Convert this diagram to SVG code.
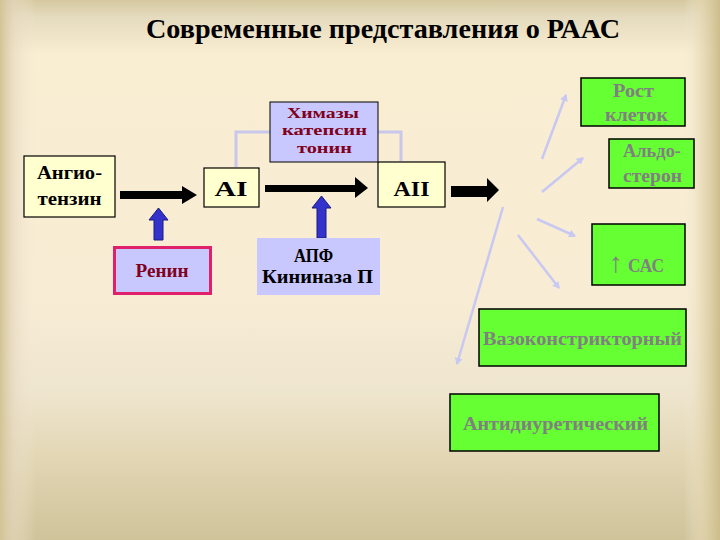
<svg xmlns="http://www.w3.org/2000/svg" width="720" height="540" viewBox="0 0 720 540">
<defs>
<linearGradient id="bgv" x1="0" y1="0" x2="0" y2="1">
<stop offset="0" stop-color="#d6c9a0"/>
<stop offset="0.03" stop-color="#e4dabd"/>
<stop offset="0.1" stop-color="#f9edd2"/>
<stop offset="0.55" stop-color="#f8ecd4"/>
<stop offset="0.72" stop-color="#efe6cf"/>
<stop offset="0.85" stop-color="#e2d6b4"/>
<stop offset="1" stop-color="#cfc39a"/>
</linearGradient>
<linearGradient id="bgh" x1="0" y1="0" x2="1" y2="0">
<stop offset="0" stop-color="#d2c494" stop-opacity="1"/>
<stop offset="0.02" stop-color="#e6d8c0" stop-opacity="0.6"/>
<stop offset="0.05" stop-color="#f3ead8" stop-opacity="0"/>
<stop offset="0.95" stop-color="#f3ead8" stop-opacity="0"/>
<stop offset="0.975" stop-color="#e4d6b0" stop-opacity="0.7"/>
<stop offset="1" stop-color="#cdbd8c" stop-opacity="1"/>
</linearGradient>
<marker id="lav" markerWidth="8" markerHeight="8" refX="6" refY="4" orient="auto" markerUnits="userSpaceOnUse">
<path d="M0,0 L7,4 L0,8 Z" fill="#c8c8f2"/>
</marker>
</defs>
<style>
.t{font-family:"Liberation Serif","Times New Roman",serif;font-weight:bold;text-anchor:middle}
.b{font-size:18px}
.yel{fill:#ffffd0;stroke:#000;stroke-width:1.2}
.lv{fill:#c8c8ff}
.gr{fill:#66ff33;stroke:#000;stroke-width:1.5}
.gt{fill:#808080;font-size:18px}
.dr{fill:#800020}
.fan{stroke:#c8c8f2;stroke-width:2.5;fill:none}
.blu{fill:#3333cc;stroke:#1a1a80;stroke-width:1}
</style>
<rect x="0" y="0" width="720" height="540" fill="url(#bgv)"/>
<rect x="0" y="0" width="720" height="540" fill="url(#bgh)"/>
<text class="t" x="383" y="38" font-size="28" fill="#000" textLength="474" lengthAdjust="spacingAndGlyphs">Современные представления о РААС</text>

<g id="connectors">
<path d="M236,167 V132 H270" stroke="#c8c8ec" stroke-width="3" fill="none"/>
<path d="M378,132 H401 V161" stroke="#c8c8ec" stroke-width="3" fill="none"/>
<path d="M120,191 H182 V186 L197,195 L182,204 V199 H120 Z" fill="#000"/>
<path d="M265,185 H355 V177 L368,188 L355,198 V192 H265 Z" fill="#000"/>
<path d="M451,186 H487 V178 L499,190 L487,202 V197 H451 Z" fill="#000"/>
<path d="M154,240 V220 H149 L158.5,208 L168,220 H163 V240 Z" class="blu"/>
<path d="M317,238 V208 H312 L321.5,196 L331,208 H326 V238 Z" class="blu"/>
<line x1="542" y1="159" x2="566" y2="95" class="fan" marker-end="url(#lav)"/>
<line x1="542" y1="192" x2="583" y2="158" class="fan" marker-end="url(#lav)"/>
<line x1="537" y1="219" x2="575" y2="236" class="fan" marker-end="url(#lav)"/>
<line x1="518" y1="235" x2="559" y2="288" class="fan" marker-end="url(#lav)"/>
<line x1="503" y1="207" x2="457" y2="364" class="fan" marker-end="url(#lav)"/>
</g>

<g id="angiotensin">
<rect x="24" y="156" width="91" height="61" class="yel"/>
<text class="t b" x="69.5" y="179" textLength="65" lengthAdjust="spacingAndGlyphs">Ангио-</text>
<text class="t b" x="69.5" y="205" textLength="64" lengthAdjust="spacingAndGlyphs">тензин</text>
</g>
<g id="ai">
<rect x="204" y="168" width="55" height="39" class="yel"/>
<text class="t" x="231" y="196" font-size="20" textLength="33" lengthAdjust="spacingAndGlyphs">AI</text>
</g>
<g id="aii">
<rect x="378" y="162" width="67" height="45" class="yel"/>
<text class="t" x="411.5" y="196" font-size="20" textLength="36" lengthAdjust="spacingAndGlyphs">AII</text>
</g>
<g id="renin">
<rect x="114.5" y="247.5" width="96" height="46" fill="#c8c8ff" stroke="#e0206a" stroke-width="3"/>
<text class="t b dr" x="162" y="277" textLength="53" lengthAdjust="spacingAndGlyphs">Ренин</text>
</g>
<g id="chymase">
<rect x="270" y="102" width="108" height="60" class="lv" stroke="#000" stroke-width="1"/>
<text class="t dr" x="323" y="118" font-size="15" textLength="72" lengthAdjust="spacingAndGlyphs">Химазы</text>
<text class="t dr" x="324.5" y="135" font-size="15" textLength="85" lengthAdjust="spacingAndGlyphs">катепсин</text>
<text class="t dr" x="324.5" y="153" font-size="15" textLength="55" lengthAdjust="spacingAndGlyphs">тонин</text>
</g>
<g id="ace">
<rect x="257" y="238" width="123" height="57" class="lv"/>
<text class="t b" x="313.5" y="262" fill="#000" textLength="39" lengthAdjust="spacingAndGlyphs">АПФ</text>
<text class="t b" x="317.5" y="283" fill="#000" textLength="111" lengthAdjust="spacingAndGlyphs">Кининаза П</text>
</g>
<g id="growth">
<rect x="581" y="78" width="104" height="48" class="gr"/>
<text class="t gt" x="633.5" y="97" textLength="41" lengthAdjust="spacingAndGlyphs">Рост</text>
<text class="t gt" x="636.5" y="121" textLength="63" lengthAdjust="spacingAndGlyphs">клеток</text>
</g>
<g id="aldosterone">
<rect x="609" y="139" width="85" height="49" class="gr"/>
<text class="t gt" x="652" y="157" textLength="58" lengthAdjust="spacingAndGlyphs">Альдо-</text>
<text class="t gt" x="652.5" y="182" textLength="59" lengthAdjust="spacingAndGlyphs">стерон</text>
</g>
<g id="sas">
<rect x="592" y="224" width="93" height="61" class="gr"/>
<text class="t" x="616" y="272" fill="#808080" font-weight="normal" font-size="28">↑</text>
<text class="t" x="646" y="272" fill="#808080" font-size="18" textLength="36" lengthAdjust="spacingAndGlyphs">САС</text>
</g>
<g id="vaso">
<rect x="479" y="309" width="207" height="57" class="gr"/>
<text class="t gt" x="582.5" y="345" textLength="199" lengthAdjust="spacingAndGlyphs">Вазоконстрикторный</text>
</g>
<g id="antidiuretic">
<rect x="450" y="394" width="209" height="57" class="gr"/>
<text class="t gt" x="555.5" y="430" textLength="185" lengthAdjust="spacingAndGlyphs">Антидиуретический</text>
</g>
</svg>
